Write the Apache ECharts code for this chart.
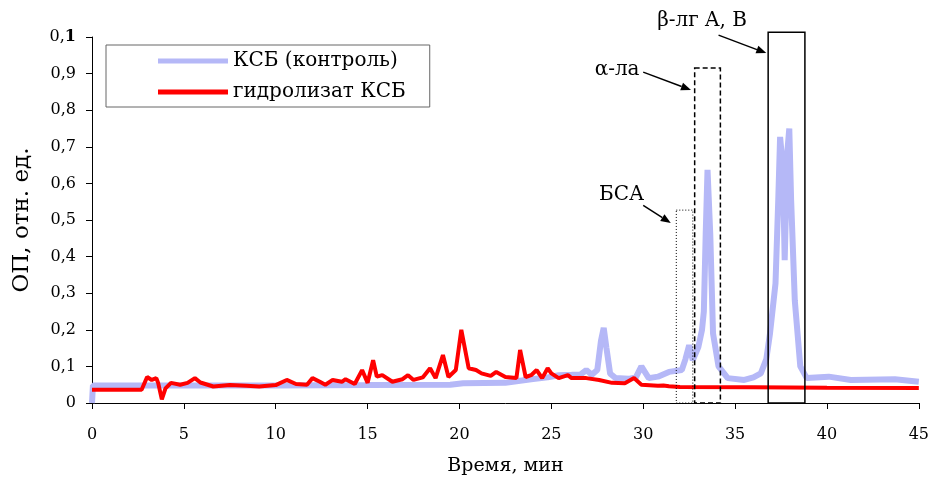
<!DOCTYPE html>
<html>
<head>
<meta charset="utf-8">
<script src="https://cdn.jsdelivr.net/npm/echarts@6/dist/echarts.min.js"></script>
<style>
  html, body { margin: 0; padding: 0; background: #fff; }
  #graphs { width: 932px; height: 481px; }
</style>
</head>
<body>
<div id="graphs"></div>
<script>
// control (КСБ) chromatogram: time, min / OD
var ctrlT = [0, 0.05, 3, 6, 10, 15, 19.5, 20.2, 22.5, 23.2, 23.9, 24.8, 25.4, 26.1, 26.6, 26.9, 27.2, 27.5, 27.7, 27.85, 28.0, 28.2, 28.5, 29.2, 29.6, 29.9, 30.3, 30.8, 31.4, 32.1, 32.3, 32.5, 32.7, 33.0, 33.2, 33.3, 33.4, 33.5, 33.65, 33.8, 34.1, 34.6, 35.5, 36.0, 36.4, 36.7, 36.9, 37.2, 37.35, 37.45, 37.6, 37.7, 37.85, 37.95, 38.05, 38.25, 38.55, 38.9, 40.1, 41.3, 43.7, 45];
var ctrlV = [0, 0.048, 0.048, 0.048, 0.048, 0.049, 0.05, 0.054, 0.055, 0.06, 0.065, 0.07, 0.076, 0.077, 0.078, 0.09, 0.077, 0.09, 0.17, 0.205, 0.15, 0.08, 0.068, 0.066, 0.07, 0.1, 0.068, 0.072, 0.085, 0.09, 0.12, 0.158, 0.117, 0.153, 0.2, 0.25, 0.46, 0.637, 0.46, 0.19, 0.1, 0.068, 0.063, 0.07, 0.081, 0.12, 0.19, 0.327, 0.555, 0.727, 0.645, 0.39, 0.69, 0.75, 0.555, 0.28, 0.1, 0.068, 0.072, 0.063, 0.065, 0.058];

// hydrolysate (гидролизат КСБ)
var hydT = [0, 2.7, 3.0, 3.25, 3.5, 3.6, 3.8, 4.0, 4.3, 4.8, 5.2, 5.6, 5.9, 6.6, 7.5, 8.4, 9.1, 10.0, 10.6, 11.1, 11.7, 12.0, 12.4, 12.7, 13.1, 13.6, 13.8, 14.3, 14.7, 15.0, 15.3, 15.5, 15.8, 16.35, 16.9, 17.2, 17.5, 18.0, 18.4, 18.7, 19.1, 19.4, 19.8, 20.1, 20.5, 20.9, 21.2, 21.7, 22.0, 22.5, 23.1, 23.3, 23.6, 23.9, 24.2, 24.5, 24.8, 25.0, 25.4, 25.9, 26.1, 26.9, 27.6, 28.3, 29.0, 29.5, 29.9, 30.8, 31.1, 31.4, 32.0, 36, 40, 45];
var hydV = [0.036, 0.036, 0.071, 0.063, 0.068, 0.055, 0.01, 0.04, 0.055, 0.05, 0.055, 0.068, 0.056, 0.045, 0.049, 0.047, 0.045, 0.049, 0.063, 0.052, 0.05, 0.068, 0.058, 0.05, 0.063, 0.058, 0.065, 0.052, 0.09, 0.055, 0.117, 0.072, 0.076, 0.058, 0.065, 0.076, 0.063, 0.07, 0.095, 0.068, 0.131, 0.071, 0.09, 0.2, 0.095, 0.09, 0.081, 0.074, 0.085, 0.071, 0.068, 0.145, 0.071, 0.076, 0.09, 0.068, 0.095, 0.081, 0.068, 0.076, 0.068, 0.068, 0.063, 0.055, 0.054, 0.068, 0.05, 0.047, 0.048, 0.046, 0.044, 0.043, 0.042, 0.041];

// peak annotations
var annLabels = ['БСА', 'α-ла', 'β-лг A, B'];
var annBoxX0 = [31.8, 32.8, 36.8];
var annBoxX1 = [32.7, 34.2, 38.8];
var annBoxTop = [0.527, 0.915, 1.013];
var annArrowFrom = [[30.0, 0.54], [30.0, 0.904], [34.1, 1.005]];
var annArrowTo = [[31.5, 0.492], [32.6, 0.855], [36.7, 0.956]];
var annTextAt = [[30.05, 0.568], [29.8, 0.91], [33.2, 1.043]];

var boxDash = [[1, 2], [5, 3], null];
var textAlign = ['right', 'right', 'center'];

var serif = "'DejaVu Serif', 'Liberation Serif', serif";

var myChart = echarts.init(document.getElementById('graphs'));

function pairs(t, v) {
    return t.map(function (x, i) { return [x, v[i]]; });
}

var option = {
    animation: false,
    backgroundColor: '#fff',
    grid: { left: 92, right: 12, top: 37, bottom: 78 },
    legend: {
        orient: 'vertical',
        left: 106,
        top: 45,
        padding: [6, 24, 5, 52],
        itemWidth: 70,
        itemHeight: 5,
        itemGap: 11,
        icon: 'rect',
        borderColor: '#666',
        borderWidth: 1,
        backgroundColor: '#fff',
        textStyle: { fontFamily: serif, fontSize: 20, color: '#000' },
        data: ['КСБ (контроль)', 'гидролизат КСБ']
    },
    xAxis: {
        type: 'value',
        min: 0, max: 45, interval: 5,
        name: 'Время, мин',
        nameLocation: 'middle',
        nameGap: 54,
        nameTextStyle: { fontFamily: serif, fontSize: 19, color: '#000' },
        axisLine: { lineStyle: { color: '#000', width: 1 } },
        axisTick: { length: 6, lineStyle: { color: '#000' } },
        axisLabel: { fontFamily: serif, fontSize: 16, color: '#000', margin: 24 },
        splitLine: { show: false }
    },
    yAxis: {
        type: 'value',
        min: 0, max: 1, interval: 0.1,
        name: 'ОП, отн. ед.',
        nameLocation: 'middle',
        nameGap: 58,
        nameTextStyle: { fontFamily: serif, fontSize: 23, color: '#000' },
        axisLine: { show: true, lineStyle: { color: '#000', width: 1 } },
        axisTick: { show: true, length: 6, lineStyle: { color: '#000' } },
        axisLabel: {
            fontFamily: serif, fontSize: 16, color: '#000', margin: 16,
            formatter: function (v) {
                if (v === 1) return '0,{b|1}';
                return (Math.round(v * 10) / 10).toString().replace('.', ',');
            },
            rich: { b: { fontFamily: serif, fontSize: 16, fontWeight: 'bold', color: '#000' } }
        },
        splitLine: { show: false }
    },
    series: [
        {
            name: 'КСБ (контроль)',
            type: 'line',
            data: pairs(ctrlT, ctrlV),
            showSymbol: false,
            symbol: 'none',
            lineStyle: { color: '#b5b8f7', width: 6 },
            itemStyle: { color: '#b5b8f7' },
            z: 2
        },
        {
            name: 'гидролизат КСБ',
            type: 'line',
            data: pairs(hydT, hydV),
            showSymbol: false,
            symbol: 'none',
            lineStyle: { color: '#ff0000', width: 4 },
            itemStyle: { color: '#ff0000' },
            z: 3
        },
        {
            type: 'custom',
            clip: false,
            silent: true,
            z: 4,
            data: annLabels.map(function (s, i) { return [i]; }),
            renderItem: function (params, api) {
                var i = api.value(0);
                var p0 = api.coord([annBoxX0[i], annBoxTop[i]]);
                var p1 = api.coord([annBoxX1[i], 0]);
                var a0 = api.coord(annArrowFrom[i]);
                var a1 = api.coord(annArrowTo[i]);
                var tp = api.coord(annTextAt[i]);
                var ang = Math.atan2(a1[1] - a0[1], a1[0] - a0[0]);
                var hl = 10, hw = 4;
                var bx = a1[0] - hl * Math.cos(ang), by = a1[1] - hl * Math.sin(ang);
                var head = [
                    a1,
                    [bx + hw * Math.sin(ang), by - hw * Math.cos(ang)],
                    [bx - hw * Math.sin(ang), by + hw * Math.cos(ang)]
                ];
                return {
                    type: 'group',
                    children: [
                        {
                            type: 'rect',
                            shape: { x: p0[0], y: p0[1], width: p1[0] - p0[0], height: p1[1] - p0[1] },
                            style: { fill: 'none', stroke: '#000', lineWidth: i === 0 ? 1 : 1.5, lineDash: boxDash[i] }
                        },
                        {
                            type: 'line',
                            shape: { x1: a0[0], y1: a0[1], x2: bx, y2: by },
                            style: { stroke: '#000', lineWidth: 1.5 }
                        },
                        {
                            type: 'polygon',
                            shape: { points: head },
                            style: { fill: '#000' }
                        },
                        {
                            type: 'text',
                            x: tp[0], y: tp[1],
                            style: {
                                text: annLabels[i],
                                align: textAlign[i],
                                verticalAlign: 'middle',
                                font: '20px ' + serif,
                                fill: '#000'
                            }
                        }
                    ]
                };
            }
        }
    ]
};

myChart.setOption(option);
</script>
</body>
</html>
